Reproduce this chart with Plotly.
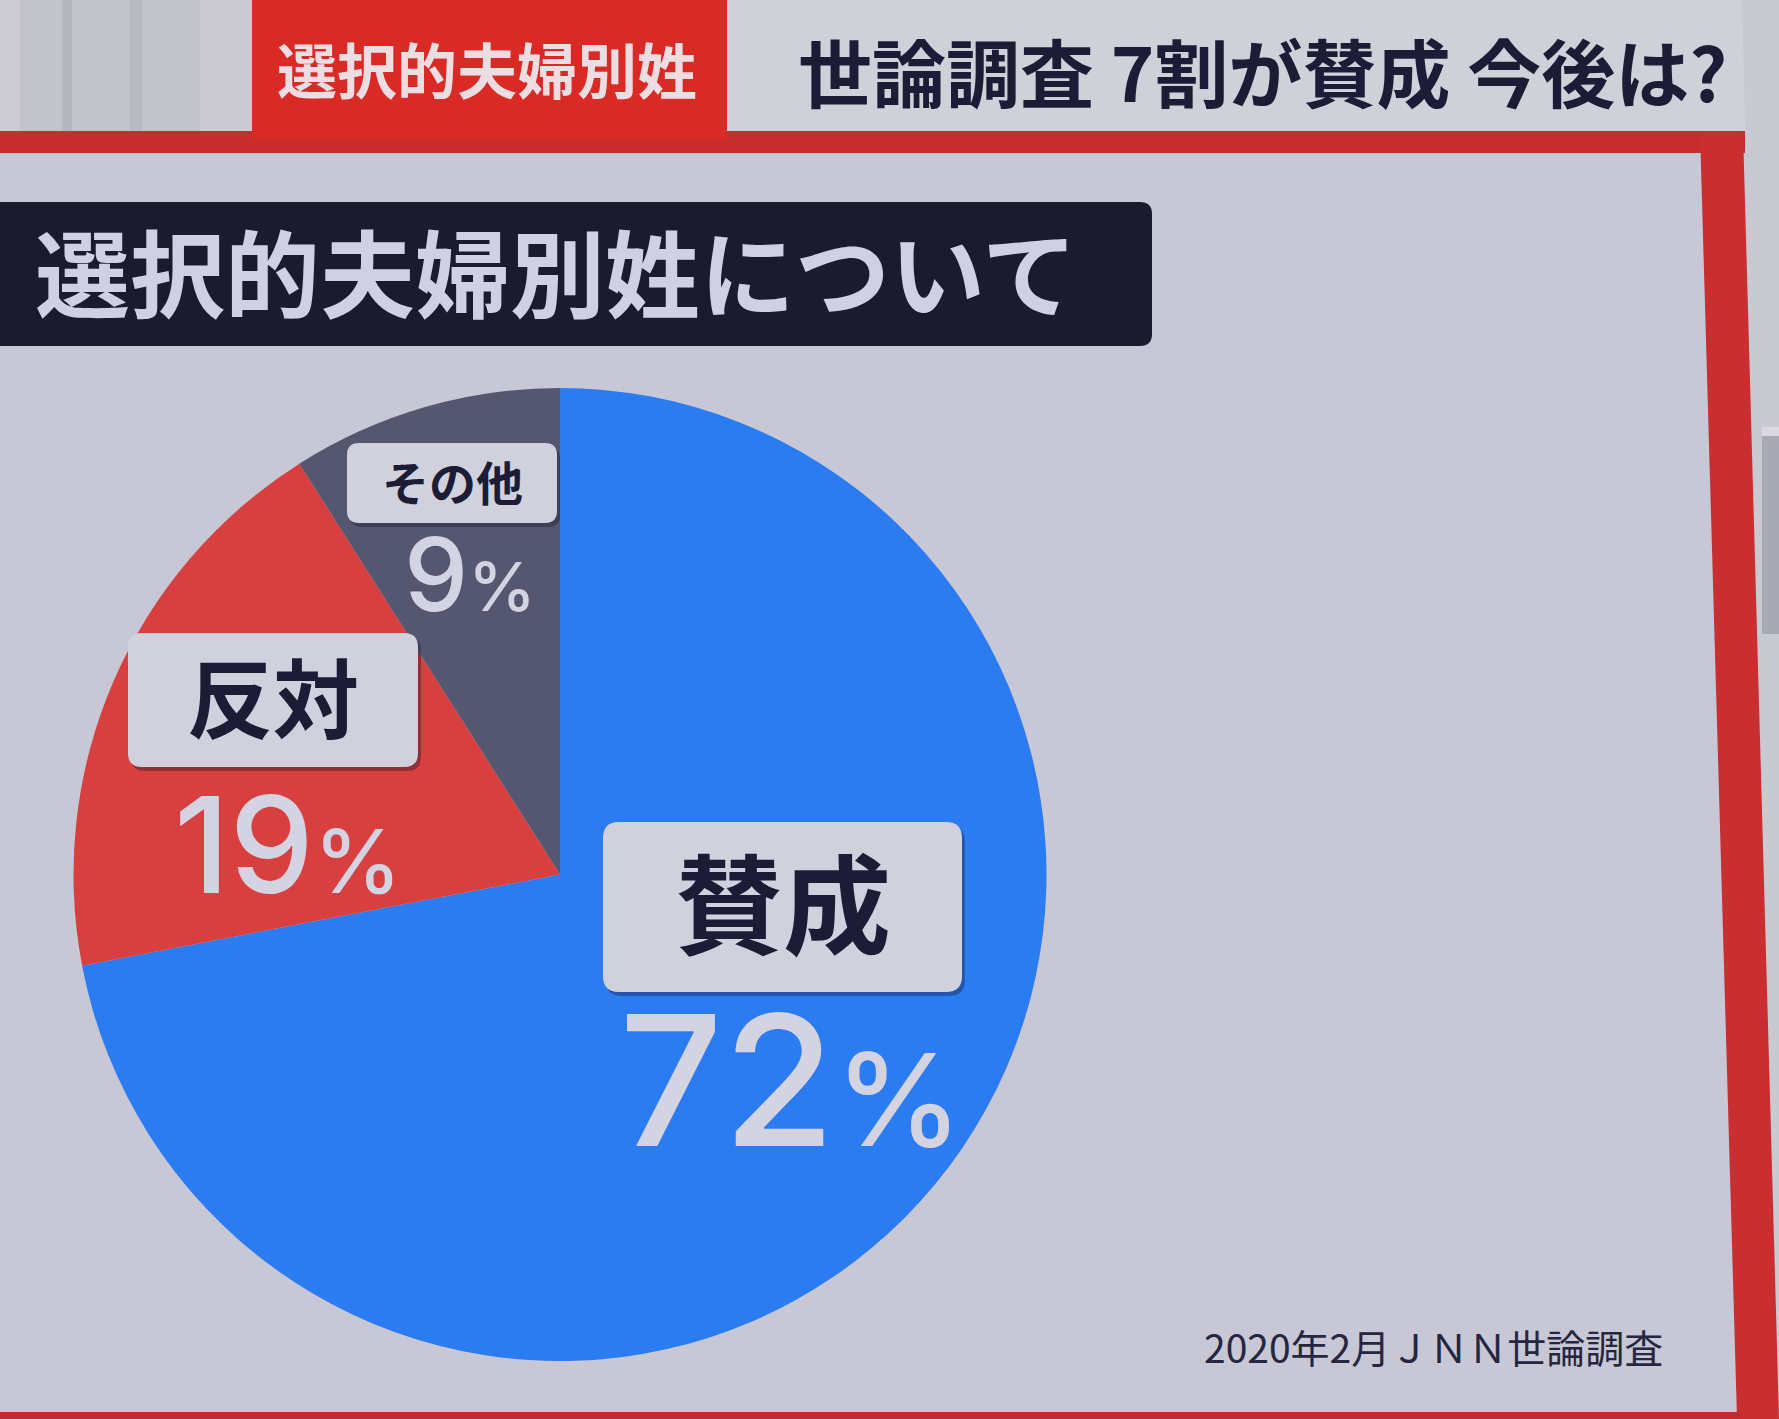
import plotly.graph_objects as go

# ---------------- data ----------------
categories = ["賛成", "反対", "その他"]
values = [72, 19, 9]
tag_text = "選択的夫婦別姓"
headline = "世論調査 7割が賛成 今後は?"
panel_title = "選択的夫婦別姓について"
source_note = "2020年2月ＪＮＮ世論調査"

# ---------------- style ----------------
W, H = 1779, 1419
SLICE_COLORS = ["#2b7bf1", "#d8403f", "#55566f"]
PANEL_BG = "#c7c7d6"
FONT = "Noto Sans CJK JP"
NUM_FONT = "Inter"
DARK_TEXT = "#1c1c36"
LIGHT_TEXT = "#d3d3e2"
BOX_FILL = "#d0d1dd"


def px_x(x):
    return x / W


def px_y(y):
    return 1 - y / H


def rrect(x0, y0, x1, y1, r):
    return (f"M {x0+r},{y0} L {x1-r},{y0} Q {x1},{y0} {x1},{y0+r} "
            f"L {x1},{y1-r} Q {x1},{y1} {x1-r},{y1} L {x0+r},{y1} "
            f"Q {x0},{y1} {x0},{y1-r} L {x0},{y0+r} Q {x0},{y0} {x0+r},{y0} Z")


fig = go.Figure()

# pie (geometry: centre ~ (560, 875), radius ~ 487 px)
pie_left, pie_right, pie_top, pie_bottom = 70, 1050, 388, 1361
fig.add_trace(go.Pie(
    labels=categories,
    values=values,
    sort=False,
    direction="clockwise",
    rotation=0,
    marker=dict(colors=SLICE_COLORS, line=dict(width=0)),
    textinfo="none",
    hoverinfo="skip",
    showlegend=False,
    domain=dict(x=[px_x(pie_left), px_x(pie_right)],
                y=[px_y(pie_bottom), px_y(pie_top)]),
))

shapes = []


def rect(x0, y0, x1, y1, color, layer="below"):
    shapes.append(dict(type="rect", xref="x", yref="y", x0=x0, y0=y0, x1=x1, y1=y1,
                       fillcolor=color, line=dict(width=0), layer=layer))


def path(p, color, layer="below"):
    shapes.append(dict(type="path", xref="x", yref="y", path=p,
                       fillcolor=color, line=dict(width=0), layer=layer))


# top band
rect(0, 0, W, 132, "#d0d0d9")
rect(0, 0, 252, 132, "#c3c3ca")
for sx0, sx1, c in [(0, 20, "#cbcbd1"), (62, 72, "#b6b6be"), (130, 142, "#b9b9c1"),
                    (200, 252, "#cacad0")]:
    rect(sx0, 0, sx1, 132, c)
# red horizontal band + tag
rect(0, 131, 1745, 153, "#c82d2d")
rect(252, 0, 727, 140, "#d92a26")
# right side studio area + red slanted stripe
path(f"M 1742,0 L {W},0 L {W},{H} L 1776,{H} Z", "#c9c9d1")
rect(1762, 427, W, 634, "#a9a9b3")
rect(1762, 427, W, 436, "#d9d9df")
path(f"M 1700,131 L 1743,131 L {W},{H} L 1737,{H} Z", "#c92e30")
# bottom red line
rect(0, 1412, 1740, H, "#c02c30")
# dark title box
path(rrect(-20, 202, 1152, 346, 12), "#1c1b2e")

# label boxes
label_boxes = {
    "賛成": dict(box=(603, 822, 962, 992), r=16, tc=(783, 899), fs=108,
                 pc=(790, 1080), pfs=182, pct_fs=128),
    "反対": dict(box=(128, 633, 418, 767), r=14, tc=(273, 694), fs=86,
                 pc=(287, 844), pfs=134, pct_fs=88),
    "その他": dict(box=(347, 443, 557, 523), r=12, tc=(452, 480), fs=47,
                  pc=(470, 574), pfs=102, pct_fs=68),
}
for cat in categories:
    b = label_boxes[cat]
    x0, y0, x1, y1 = b["box"]
    path(rrect(x0 + 3, y0 + 4, x1 + 3, y1 + 4, b["r"]), "rgba(20,20,40,0.35)", layer="above")
    path(rrect(x0, y0, x1, y1, b["r"]), BOX_FILL, layer="above")

annotations = []


def ann(text, x, y, size, color, xanchor="center", weight="bold", yanchor="middle", family=FONT):
    annotations.append(dict(text=text, x=x, y=y, xref="x", yref="y", showarrow=False,
                            xanchor=xanchor, yanchor=yanchor,
                            font=dict(family=family, size=size, color=color, weight=weight)))


ann(tag_text, 487, 67, 60, "#ecdde3")
ann(headline, 1262, 69, 74, DARK_TEXT)
ann(panel_title, 33, 269, 95, "#cfd0e2", xanchor="left")
ann(source_note, 1665, 1346, 39, "#262640", xanchor="right", weight="normal")

for cat, v in zip(categories, values):
    b = label_boxes[cat]
    ann(cat, b["tc"][0], b["tc"][1], b["fs"], DARK_TEXT)
    pct = f"{v}<span style='font-size:{b['pct_fs']}px'>%</span>"
    ann(pct, b["pc"][0], b["pc"][1], b["pfs"], LIGHT_TEXT, weight=500, family=NUM_FONT)

fig.update_layout(
    width=W, height=H,
    margin=dict(l=0, r=0, t=0, b=0),
    paper_bgcolor=PANEL_BG,
    plot_bgcolor=PANEL_BG,
    xaxis=dict(range=[0, W], visible=False, fixedrange=True),
    yaxis=dict(range=[H, 0], visible=False, fixedrange=True),
    shapes=shapes,
    annotations=annotations,
    showlegend=False,
)

fig.write_html("out.html", config={"displayModeBar": False},
               post_script="document.body.style.margin='0';")
